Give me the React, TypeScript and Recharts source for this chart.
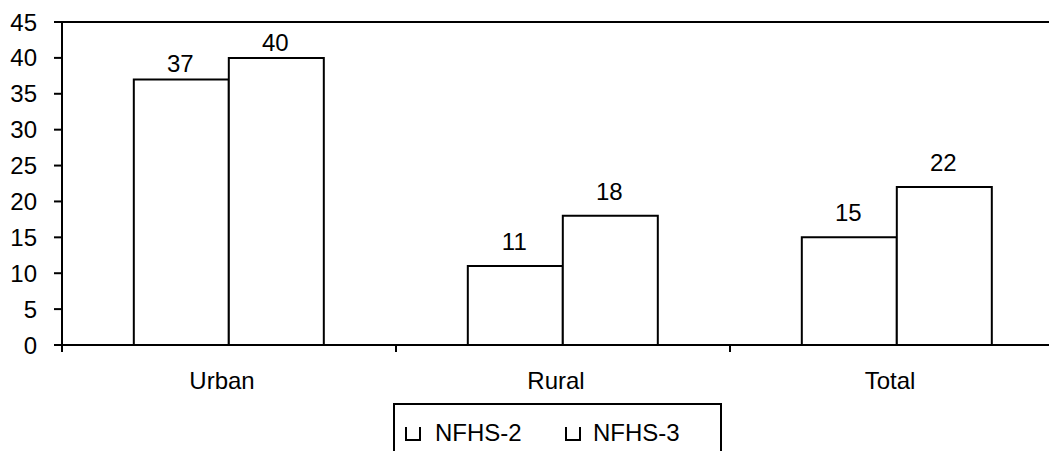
import { Bar, BarChart, LabelList, Legend, ReferenceLine, XAxis, YAxis } from "recharts";

const categories = ["Urban", "Rural", "Total"];
const nfhs2 = [37, 11, 15];
const nfhs3 = [40, 18, 22];
const yTicks = [0, 5, 10, 15, 20, 25, 30, 35, 40, 45];

const data = categories.map((name, i) => ({
  name,
  "NFHS-2": nfhs2[i],
  "NFHS-3": nfhs3[i],
}));

const font = "'Liberation Sans', Arial, sans-serif";
const fontSize = 24;

const renderValue = (props: any) => {
  const { x, y, width, value } = props;
  // labels on the tall urban bars sit closer to the bar top
  const gap = value >= 30 ? 7 : 16;
  return (
    <text
      x={Number(x) + Number(width) / 2 - 1}
      y={Number(y) - gap}
      textAnchor="middle"
      fontFamily={font}
      fontSize={fontSize}
      fill="#000"
    >
      {value}
    </text>
  );
};

// category label plus a tick mark on the left edge of each band
const CategoryTick = (props: any) => {
  const { x, y, payload } = props;
  const edge = x - (payload.offset || 0);
  const axisY = y - 28;
  return (
    <g>
      <line x1={edge} x2={edge} y1={axisY} y2={axisY + 7} stroke="#000" strokeWidth={2} />
      <text
        x={x - 7}
        y={y - 1}
        dy="0.71em"
        textAnchor="middle"
        fontFamily={font}
        fontSize={fontSize}
        fill="#000"
      >
        {payload.value}
      </text>
    </g>
  );
};

const renderLegend = (props: any) => {
  const { payload = [] } = props;
  return (
    <div
      style={{
        position: "relative",
        width: 329,
        height: 80,
        border: "2px solid #000",
        boxSizing: "border-box",
        fontFamily: font,
        fontSize: fontSize,
        color: "#000",
        background: "#fff",
      }}
    >
      {payload.map((entry: any, i: number) => (
        <div key={entry.value}>
          <svg
            width={16}
            height={14}
            style={{ position: "absolute", left: 10 + i * 160, top: 22 }}
          >
            <path d="M1,0 V13 H15 V0" fill="none" stroke="#000" strokeWidth={2} />
          </svg>
          <span
            style={{
              position: "absolute",
              left: 40 + i * 158,
              top: 14,
              lineHeight: "27px",
              whiteSpace: "nowrap",
            }}
          >
            {entry.value}
          </span>
        </div>
      ))}
    </div>
  );
};

export default function App() {
  return (
    <div
      style={{
        position: "absolute",
        left: 0,
        top: 0,
        width: 1049,
        height: 451,
        overflow: "hidden",
        background: "#fff",
      }}
    >
      <BarChart
        width={1100}
        height={480}
        data={data}
        margin={{ top: 22, right: 36, left: 0, bottom: 95 }}
        barCategoryGap="21.5%"
        barGap={0}
      >
        <XAxis
          dataKey="name"
          height={40}
          tickLine={false}
          axisLine={{ stroke: "#000", strokeWidth: 2 }}
          tickSize={8}
          tickMargin={20}
          tick={<CategoryTick />}
        />
        <YAxis
          width={62}
          domain={[0, 45]}
          ticks={yTicks}
          interval={0}
          tickSize={8}
          tickMargin={17}
          axisLine={{ stroke: "#000", strokeWidth: 2 }}
          tickLine={{ stroke: "#000", strokeWidth: 2 }}
          tick={{ fill: "#000", fontSize: fontSize, fontFamily: font }}
        />
        <ReferenceLine y={45} stroke="#000" strokeWidth={2} />
        <Legend
          layout="horizontal"
          verticalAlign="middle"
          align="center"
          content={renderLegend}
          wrapperStyle={{ top: 403, left: 393, width: 329, height: 80 }}
        />
        <Bar
          dataKey="NFHS-2"
          fill="#fff"
          stroke="#000"
          strokeWidth={2}
          isAnimationActive={false}
        >
          <LabelList dataKey="NFHS-2" content={renderValue} />
        </Bar>
        <Bar
          dataKey="NFHS-3"
          fill="#fff"
          stroke="#000"
          strokeWidth={2}
          isAnimationActive={false}
        >
          <LabelList dataKey="NFHS-3" content={renderValue} />
        </Bar>
      </BarChart>
    </div>
  );
}
